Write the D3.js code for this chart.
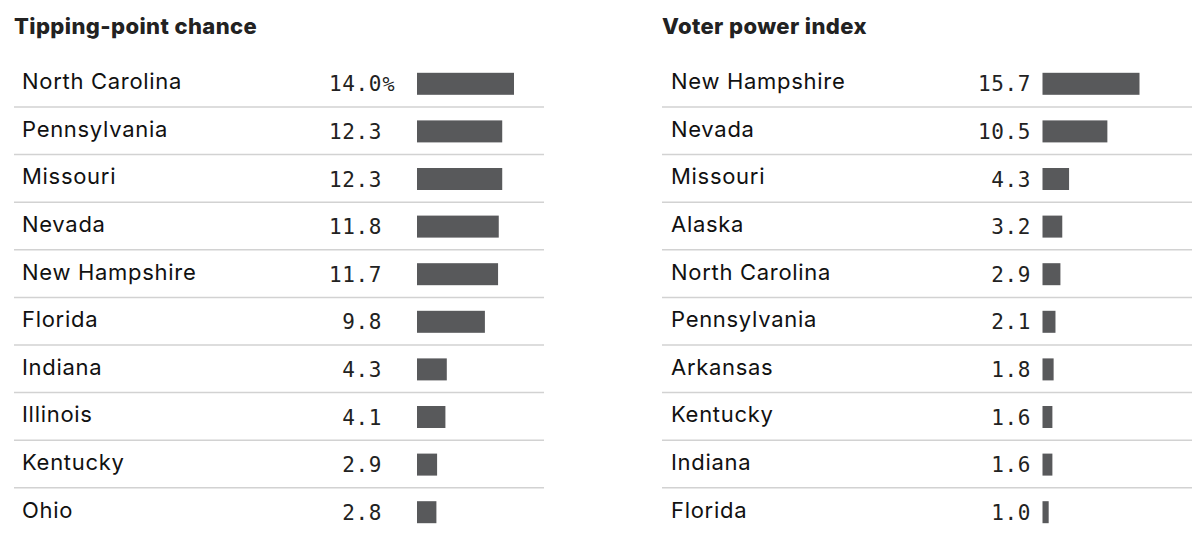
<!DOCTYPE html>
<html>
<head>
<meta charset="utf-8">
<script src="https://cdn.jsdelivr.net/npm/d3@7"></script>
<style>
  html, body { margin: 0; padding: 0; background: #fff; }
  svg { display: block; }
</style>
</head>
<body>
<svg id="chart" width="1200" height="560"></svg>
<script>
const tipTitle = "Tipping-point chance";
const tipStates = ["North Carolina", "Pennsylvania", "Missouri", "Nevada", "New Hampshire",
                   "Florida", "Indiana", "Illinois", "Kentucky", "Ohio"];
const tipValues = [14.0, 12.3, 12.3, 11.8, 11.7, 9.8, 4.3, 4.1, 2.9, 2.8];

const vpiTitle = "Voter power index";
const vpiStates = ["New Hampshire", "Nevada", "Missouri", "Alaska", "North Carolina",
                   "Pennsylvania", "Arkansas", "Kentucky", "Indiana", "Florida"];
const vpiValues = [15.7, 10.5, 4.3, 3.2, 2.9, 2.1, 1.8, 1.6, 1.6, 1.0];

const svg = d3.select("#chart");

const LABEL_FONT = "Inter, 'Liberation Sans', Arial, sans-serif";
const MONO_FONT = "'DejaVu Sans Mono', 'Liberation Mono', monospace";

function drawPanel(cfg) {
  const g = svg.append("g");
  const y = d3.scaleBand()
    .domain(d3.range(cfg.states.length))
    .range([59.4, 59.4 + 47.6 * cfg.states.length])
    .padding(0);
  const x = d3.scaleLinear()
    .domain([0, d3.max(cfg.values)])
    .range([0, 97]);

  g.append("text")
    .attr("x", cfg.x0)
    .attr("y", 34)
    .attr("font-family", LABEL_FONT)
    .attr("font-weight", 800)
    .attr("font-size", 22)
    .attr("letter-spacing", 0.4)
    .attr("fill", "#222")
    .text(cfg.title);

  const rows = g.selectAll("g.row")
    .data(cfg.states.map((s, i) => ({ state: s, value: cfg.values[i], i })))
    .join("g")
    .attr("class", "row")
    .attr("transform", d => `translate(0,${y(d.i)})`);

  rows.filter(d => d.i < cfg.states.length - 1)
    .append("line")
    .attr("x1", cfg.x0)
    .attr("x2", cfg.x1)
    .attr("y1", y.bandwidth())
    .attr("y2", y.bandwidth())
    .attr("stroke", "#d2d2d2")
    .attr("stroke-width", 1.5);

  rows.append("text")
    .attr("x", cfg.labelX)
    .attr("y", 29.9)
    .attr("font-family", LABEL_FONT)
    .attr("font-size", 22)
    .attr("letter-spacing", 0.7)
    .attr("fill", "#111")
    .text(d => d.state);

  rows.append("text")
    .attr("x", cfg.valueRight)
    .attr("y", 32)
    .attr("text-anchor", "end")
    .attr("font-family", MONO_FONT)
    .attr("font-size", 21)
    .attr("letter-spacing", 0.6)
    .attr("fill", "#222")
    .text(d => d.value.toFixed(1));

  if (cfg.pct) {
    rows.filter(d => d.i === 0)
      .append("text")
      .attr("x", cfg.valueRight + 0.5)
      .attr("y", 32)
      .attr("font-family", MONO_FONT)
      .attr("font-size", 20)
      .attr("fill", "#222")
      .text("%");
  }

  rows.append("rect")
    .attr("x", cfg.barX)
    .attr("y", 13.4)
    .attr("width", d => x(d.value))
    .attr("height", 22)
    .attr("fill", "#58595b");
}

drawPanel({
  title: tipTitle, states: tipStates, values: tipValues, pct: true,
  x0: 14, x1: 544, labelX: 22, valueRight: 382, barX: 417
});
drawPanel({
  title: vpiTitle, states: vpiStates, values: vpiValues, pct: false,
  x0: 662, x1: 1192, labelX: 671, valueRight: 1031, barX: 1042.5
});
</script>
</body>
</html>
